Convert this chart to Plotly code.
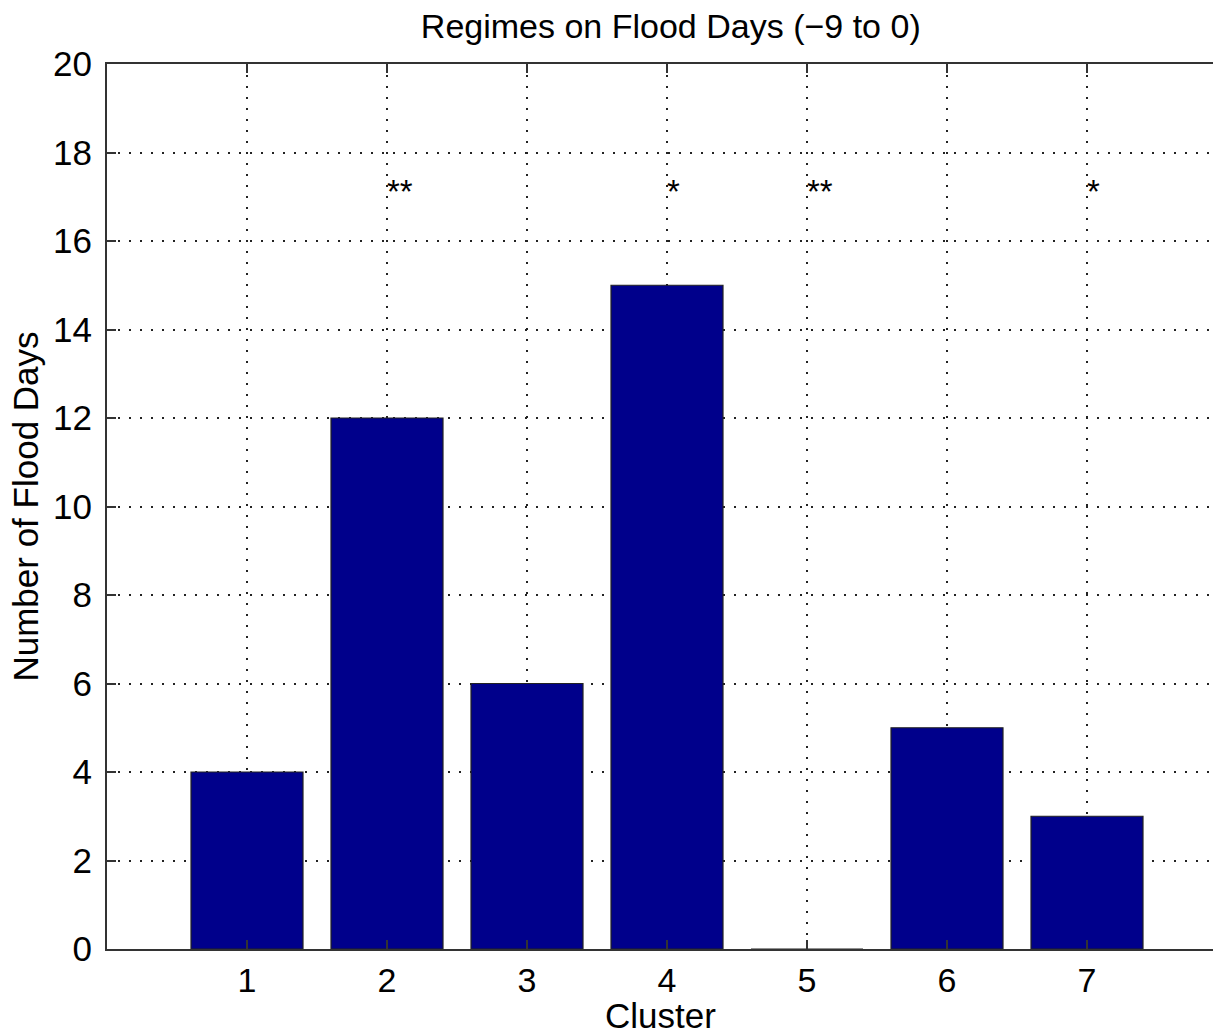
import plotly.graph_objects as go

# Flood-day counts per weather-regime cluster
clusters = [1, 2, 3, 4, 5, 6, 7]
flood_days = [4, 12, 6, 15, 0, 5, 3]
significance = ["", "**", "", "*", "**", "", "*"]
y_ticks = [0, 2, 4, 6, 8, 10, 12, 14, 16, 18, 20]
marker_level = 17.2

FONT = "Liberation Sans, Arial, Helvetica, sans-serif"
AXIS_COLOR = "#333333"
GRID_DASH = "2px,9px"

fig = go.Figure()

fig.add_trace(go.Bar(
    x=clusters,
    y=flood_days,
    width=0.8,
    marker=dict(color="#00008B", line=dict(color="#222222", width=1.2)),
    showlegend=False,
))

# significance stars above clusters
for c, s in zip(clusters, significance):
    if s:
        fig.add_annotation(
            x=c, y=marker_level, text=s, showarrow=False,
            xanchor="left", yanchor="middle", xshift=-2, yshift=-4,
            font=dict(family=FONT, size=33, color="black"),
        )

# x-axis title placed just below the tick labels
fig.add_annotation(
    x=0.5, xref="x domain", y=-0.075, yref="paper",
    text="Cluster", showarrow=False, xanchor="center", yanchor="middle",
    font=dict(family=FONT, size=35, color="black"),
)

# top axis line with inward ticks (box style)
fig.add_trace(go.Scatter(x=[None], y=[None], xaxis="x2", showlegend=False))

fig.update_layout(
    width=1213, height=1034,
    margin=dict(l=107, r=0, t=64, b=85),
    paper_bgcolor="white", plot_bgcolor="white",
    title=dict(
        text="Regimes on Flood Days (\u22129 to 0)",
        x=0.553, xanchor="center", y=0.975, yanchor="middle",
        font=dict(family=FONT, size=34, color="black"),
    ),
    bargap=0.2,
    xaxis=dict(
        range=[0, 7.9],
        tickmode="array", tickvals=clusters, ticktext=[str(c) for c in clusters],
        ticks="inside", ticklen=9, tickcolor=AXIS_COLOR, tickwidth=1.5,
        showline=True, linecolor=AXIS_COLOR, linewidth=2,
        showgrid=True, gridcolor="#222222", griddash=GRID_DASH, gridwidth=1.5,
        zeroline=False,
        tickfont=dict(family=FONT, size=34, color="black"),
    ),
    xaxis2=dict(
        overlaying="x", side="top", matches="x", range=[0, 7.9],
        tickmode="array", tickvals=clusters, showticklabels=False,
        ticks="inside", ticklen=9, tickcolor=AXIS_COLOR, tickwidth=1.5,
        showline=True, linecolor=AXIS_COLOR, linewidth=2,
        showgrid=False, zeroline=False,
    ),
    yaxis=dict(
        range=[0, 20],
        tickmode="array", tickvals=y_ticks,
        ticks="inside", ticklen=9, tickcolor=AXIS_COLOR, tickwidth=1.5,
        showline=True, linecolor=AXIS_COLOR, linewidth=2,
        showgrid=True, gridcolor="#222222", griddash=GRID_DASH, gridwidth=1.5,
        zeroline=False,
        tickfont=dict(family=FONT, size=35, color="black"),
        ticklabelstandoff=6,
        title=dict(text="Number of Flood Days", standoff=4,
                   font=dict(family=FONT, size=35, color="black")),
    ),
)

fig.write_html("out.html")
